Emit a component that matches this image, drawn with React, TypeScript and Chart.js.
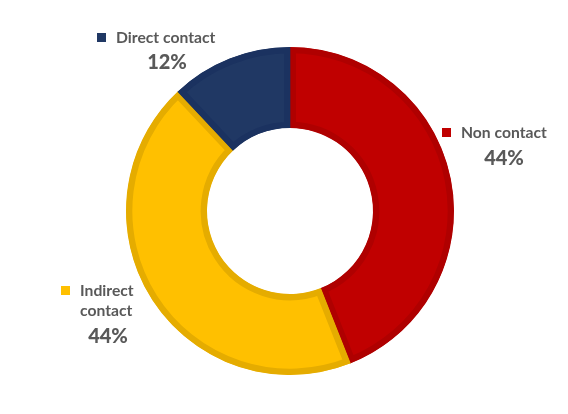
import React, { useEffect, useRef } from "react";
import { Chart, registerables } from "chart.js";

Chart.register(...registerables);

const categories = ["Non contact", "Indirect contact", "Direct contact"];
const values = [44, 44, 12];
const valueLabels = ["44%", "44%", "12%"];
const fillColors = ["#C00000", "#FFC000", "#203864"];
const edgeColors = ["#AF0000", "#E5AC00", "#1B3260"];

// label layout: marker square, name lines, percentage position
const labelLayout = [
  { sq: [442, 128], lines: ["Non contact"], textX: 461, lineY: [133], pctX: 504, pctY: 159 },
  { sq: [61, 286], lines: ["Indirect", "contact"], textX: 80, lineY: [291, 311], pctX: 108, pctY: 337 },
  { sq: [97, 33], lines: ["Direct contact"], textX: 116, lineY: [38], pctX: 167, pctY: 63 },
];

const labelPlugin = {
  id: "sliceLabels",
  afterDraw(chart: any) {
    const ctx = chart.ctx;
    ctx.save();
    labelLayout.forEach((l, i) => {
      ctx.fillStyle = fillColors[i];
      ctx.fillRect(l.sq[0], l.sq[1], 9, 9);
      ctx.fillStyle = "#595959";
      ctx.textBaseline = "middle";
      ctx.textAlign = "left";
      ctx.font = "bold 15.7px Lato";
      l.lines.forEach((t, j) => ctx.fillText(t, l.textX, l.lineY[j]));
      ctx.textAlign = "center";
      ctx.font = "900 20px Lato";
      ctx.fillText(valueLabels[i], l.pctX, l.pctY);
    });
    ctx.restore();
  },
};

export default function App() {
  const ref = useRef<HTMLCanvasElement>(null);
  useEffect(() => {
    if (!ref.current) return;
    const chart = new Chart(ref.current, {
      type: "doughnut",
      data: {
        labels: categories,
        datasets: [
          {
            data: values,
            backgroundColor: fillColors,
            borderColor: edgeColors,
            borderWidth: 6,
            borderAlign: "inner",
            hoverOffset: 0,
          } as any,
        ],
      },
      options: {
        animation: false,
        responsive: false,
        maintainAspectRatio: false,
        cutout: "50.6%",
        layout: { padding: { left: 126, right: 114, top: 47, bottom: 39 } },
        plugins: { legend: { display: false }, tooltip: { enabled: false } },
      },
      plugins: [labelPlugin],
    });
    return () => chart.destroy();
  }, []);
  return (
    <div style={{ position: "fixed", left: 0, top: 0, width: 568, height: 414, background: "#fff" }}>
      <canvas ref={ref} width={568} height={414} style={{ width: 568, height: 414 }} />
    </div>
  );
}
